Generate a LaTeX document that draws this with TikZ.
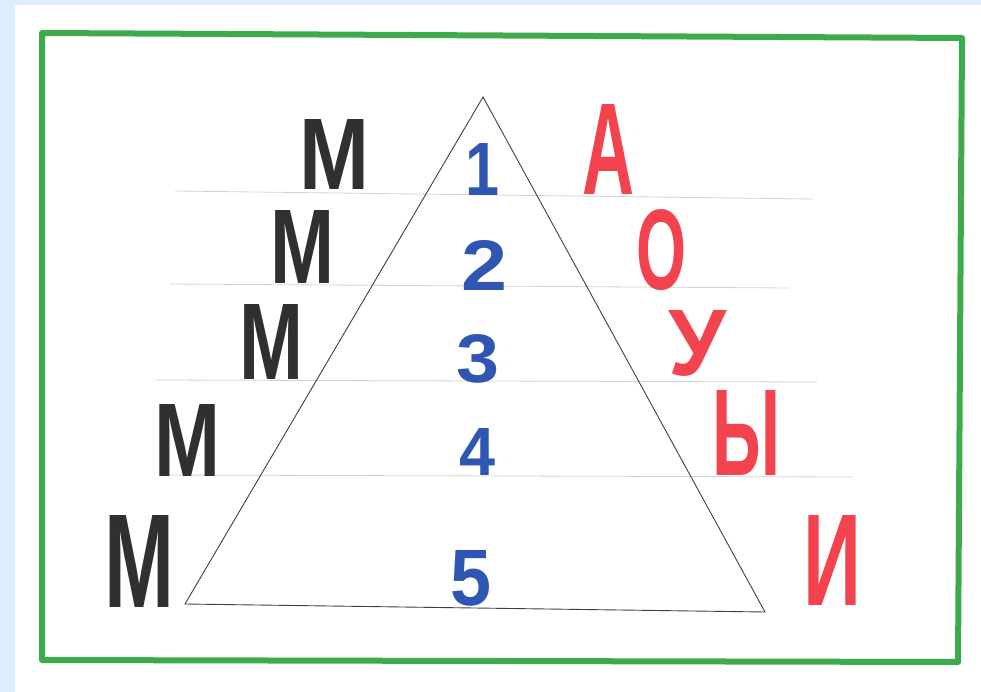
\documentclass[tikz,border=0pt]{standalone}
\usepackage{fontspec}
\usepackage{graphicx}
\setmainfont{Liberation Sans}
\newfontfamily\boldsans{Liberation Sans Bold}
\definecolor{bgblue}{HTML}{DCEEFF}
\definecolor{framegreen}{HTML}{3DAA4C}
\definecolor{rulegray}{HTML}{D2D2D2}
\definecolor{markblack}{HTML}{303030}
\definecolor{markred}{HTML}{F2434F}
\definecolor{markblue}{HTML}{2F56B2}
\newcommand\gly[3]{\resizebox{#1pt}{#2pt}{\fontsize{100}{100}\selectfont #3}}
\tikzset{
  cons/.style={text=markblack, inner sep=0pt, anchor=center, font=\boldsans},
  vow/.style={text=markred, inner sep=0pt, anchor=center, font=\boldsans},
  num/.style={text=markblue, inner sep=0pt, anchor=center, font=\boldsans},
  rule/.style={draw=rulegray, line width=0.8pt},
  tri/.style={draw=black!75, line width=0.9pt, line join=miter},
  frame/.style={draw=framegreen, line width=6pt, line join=round}
}
\begin{document}
\begin{tikzpicture}[x=1pt,y=-1pt]
\useasboundingbox (0,0) rectangle (981,692);
\fill[bgblue] (0,0) rectangle (981,692);
\fill[white] (15,5) rectangle (981,692);
% frame
\draw[frame] (42,33) -- (962,38) -- (958,662) -- (42,660) -- cycle;
% ruled lines
\coordinate (r1a) at (175,191); \coordinate (r1b) at (813,199);
\coordinate (r2a) at (170,284); \coordinate (r2b) at (790,288);
\coordinate (r3a) at (155,380); \coordinate (r3b) at (817,382);
\coordinate (r4a) at (160,475); \coordinate (r4b) at (853,477);
\draw[rule] (r1a) -- (r1b);
\draw[rule] (r2a) -- (r2b);
\draw[rule] (r3a) -- (r3b);
\draw[rule] (r4a) -- (r4b);
% triangle
\coordinate (apex) at (483,97);
\coordinate (bl) at (185,604);
\coordinate (br) at (765,612);
\draw[tri] (apex) -- (bl) -- (br) -- cycle;
% consonants
\node[cons] (m1) at (334,155) {\gly{70}{70}{М}};
\node[cons] (m2) at (302,247) {\gly{64}{73}{М}};
\node[cons] (m3) at (271,342) {\gly{64}{75}{М}};
\node[cons] (m4) at (187,440) {\gly{66}{72}{М}};
\node[cons] (m5) at (139,561) {\gly{70}{92}{М}};
% vowels
\node[vow] (v1) at (608,150) {\gly{52}{90}{А}};
\node[vow] (v2) at (661,250) {\gly{50}{80}{О}};
\node[vow] (v3) at (697,343) {\gly{58}{65}{У}};
\node[vow] (v4) at (746,433) {\gly{68}{85}{Ы}};
\node[vow] (v5) at (832,560) {\gly{58}{90}{И}};
% numbers
\node[num] (n1) at (482,170) {\gly{34}{52}{1}};
\node[num] (n2) at (484,265) {\gly{46}{50}{2}};
\node[num] (n3) at (478,359) {\gly{43}{48}{3}};
\node[num] (n4) at (477,452) {\gly{36}{47}{4}};
\node[num] (n5) at (471,578) {\gly{41}{55}{5}};
\end{tikzpicture}
\end{document}
